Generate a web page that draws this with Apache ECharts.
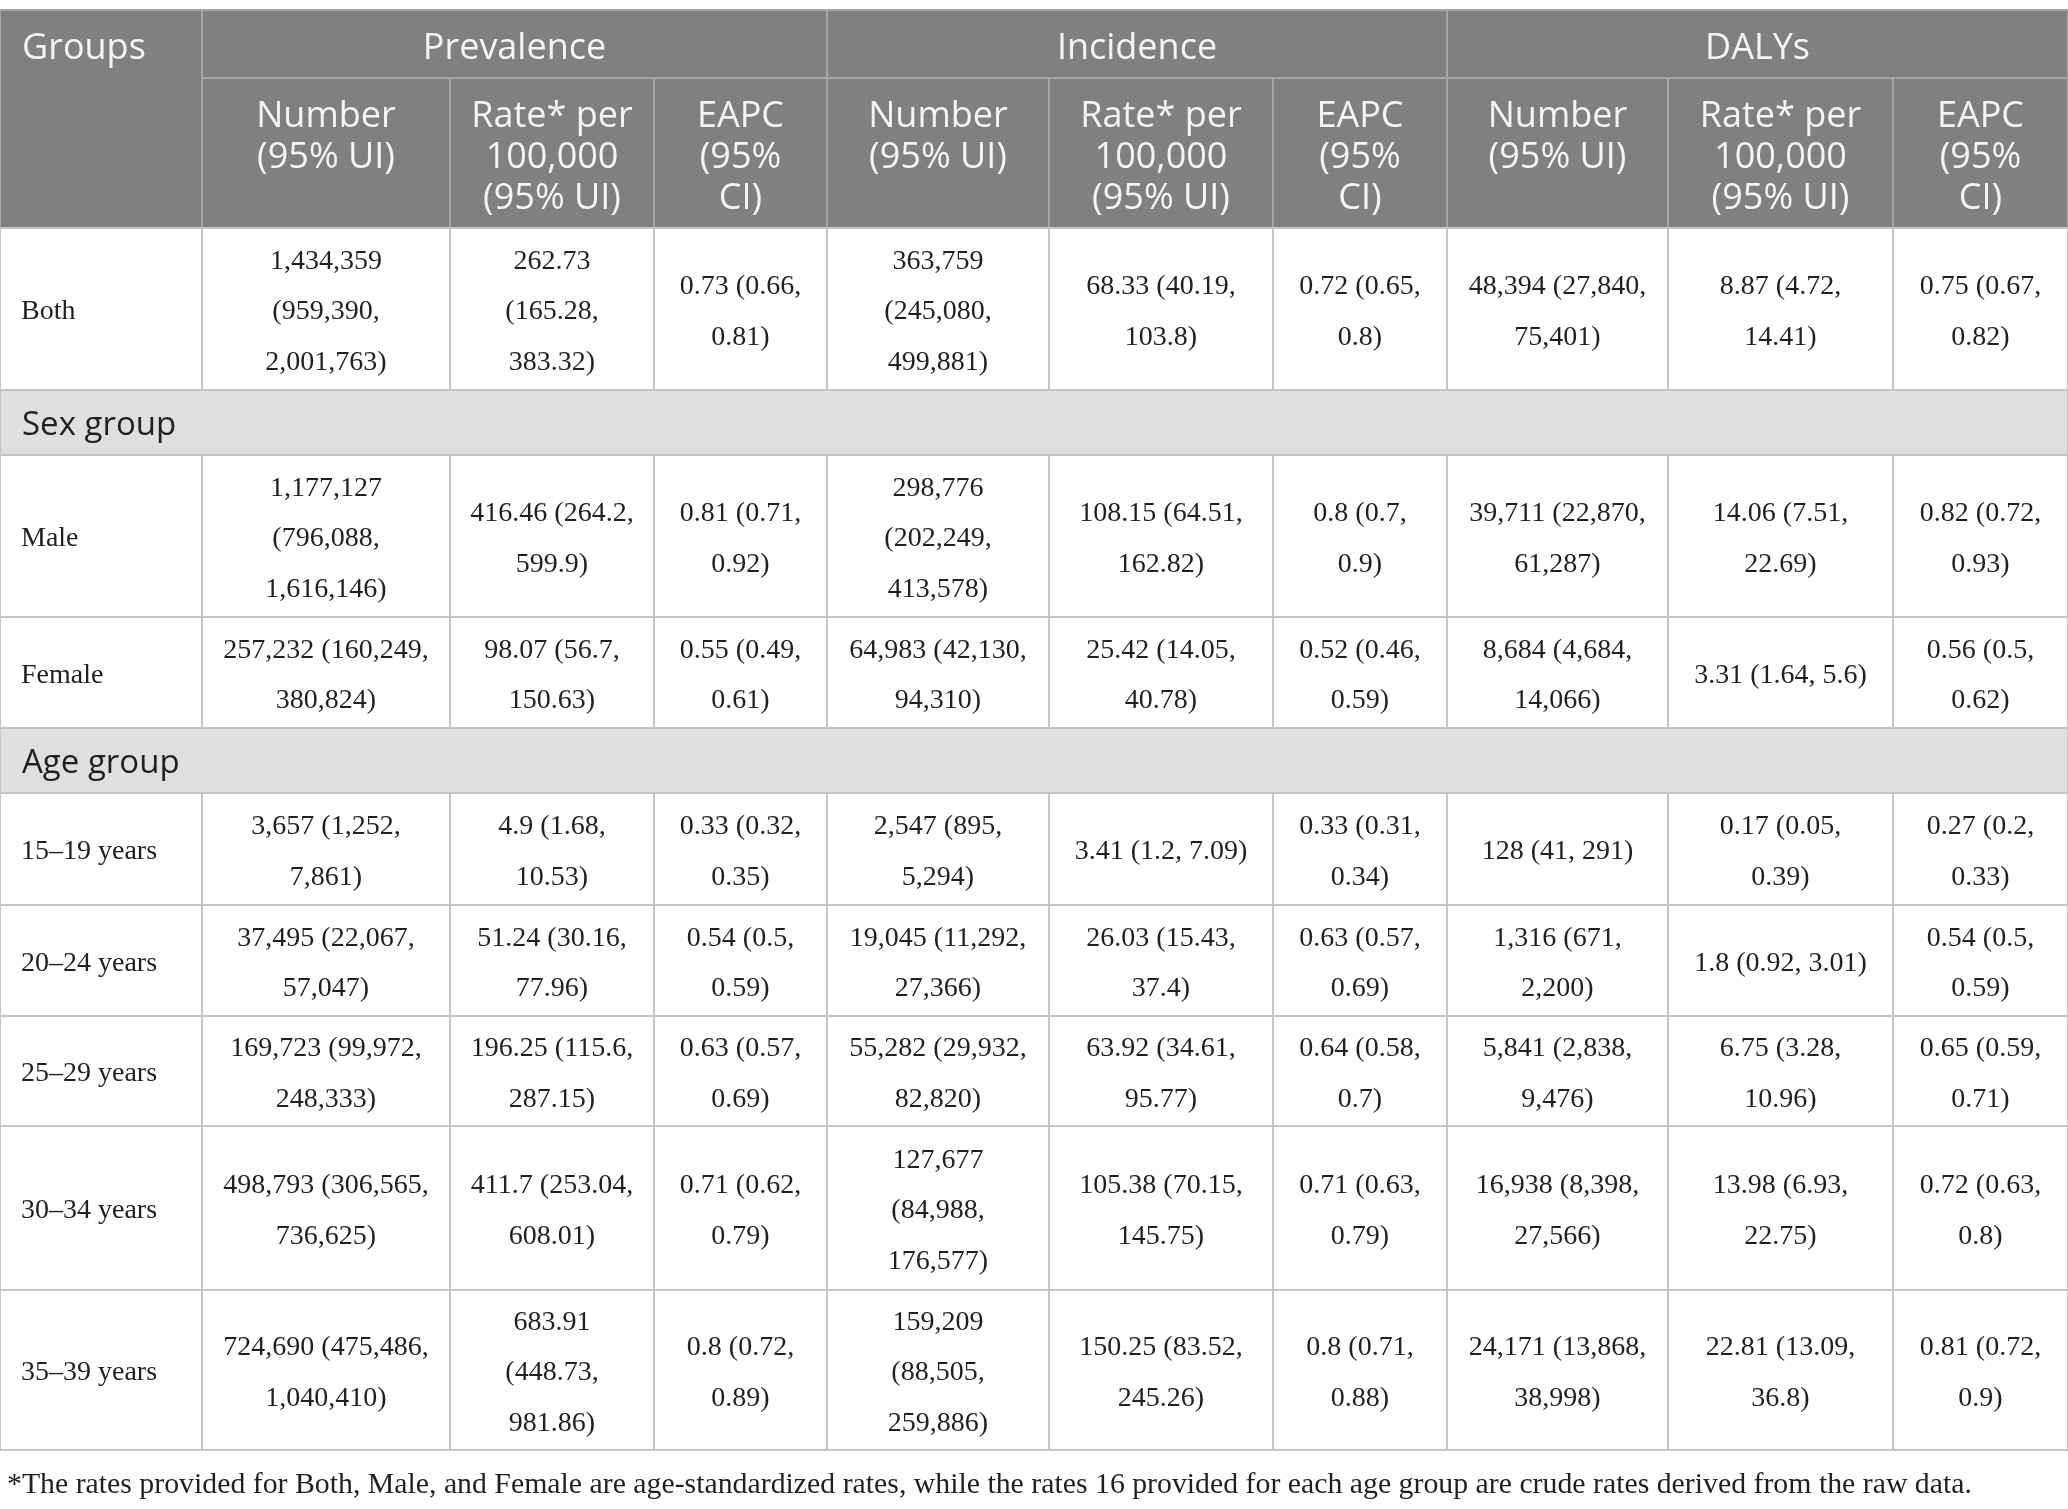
<!DOCTYPE html>
<html>
<head>
<meta charset="utf-8">
<script src="https://cdn.jsdelivr.net/npm/echarts@6/dist/echarts.min.js"></script>
<style>
html,body{margin:0;padding:0;background:#fff;}
#chart{width:2068px;height:1509px;}
</style>
</head>
<body>
<div id="chart"></div>
<script>
// ---------- DATA ----------
const topHeader = 'Groups';
const measures = ['Prevalence', 'Incidence', 'DALYs'];
const subHeaders = ['Number\n(95% UI)', 'Rate* per\n100,000\n(95% UI)', 'EAPC\n(95%\nCI)'];
const sections = ['Sex group', 'Age group'];
const groups = ['Both', 'Male', 'Female', '15–19 years', '20–24 years', '25–29 years', '30–34 years', '35–39 years'];

const prevNumber = ['1,434,359\n(959,390,\n2,001,763)', '1,177,127\n(796,088,\n1,616,146)', '257,232 (160,249,\n380,824)', '3,657 (1,252,\n7,861)', '37,495 (22,067,\n57,047)', '169,723 (99,972,\n248,333)', '498,793 (306,565,\n736,625)', '724,690 (475,486,\n1,040,410)'];
const prevRate = ['262.73\n(165.28,\n383.32)', '416.46 (264.2,\n599.9)', '98.07 (56.7,\n150.63)', '4.9 (1.68,\n10.53)', '51.24 (30.16,\n77.96)', '196.25 (115.6,\n287.15)', '411.7 (253.04,\n608.01)', '683.91\n(448.73,\n981.86)'];
const prevEAPC = ['0.73 (0.66,\n0.81)', '0.81 (0.71,\n0.92)', '0.55 (0.49,\n0.61)', '0.33 (0.32,\n0.35)', '0.54 (0.5,\n0.59)', '0.63 (0.57,\n0.69)', '0.71 (0.62,\n0.79)', '0.8 (0.72,\n0.89)'];
const incNumber = ['363,759\n(245,080,\n499,881)', '298,776\n(202,249,\n413,578)', '64,983 (42,130,\n94,310)', '2,547 (895,\n5,294)', '19,045 (11,292,\n27,366)', '55,282 (29,932,\n82,820)', '127,677\n(84,988,\n176,577)', '159,209\n(88,505,\n259,886)'];
const incRate = ['68.33 (40.19,\n103.8)', '108.15 (64.51,\n162.82)', '25.42 (14.05,\n40.78)', '3.41 (1.2, 7.09)', '26.03 (15.43,\n37.4)', '63.92 (34.61,\n95.77)', '105.38 (70.15,\n145.75)', '150.25 (83.52,\n245.26)'];
const incEAPC = ['0.72 (0.65,\n0.8)', '0.8 (0.7,\n0.9)', '0.52 (0.46,\n0.59)', '0.33 (0.31,\n0.34)', '0.63 (0.57,\n0.69)', '0.64 (0.58,\n0.7)', '0.71 (0.63,\n0.79)', '0.8 (0.71,\n0.88)'];
const dalyNumber = ['48,394 (27,840,\n75,401)', '39,711 (22,870,\n61,287)', '8,684 (4,684,\n14,066)', '128 (41, 291)', '1,316 (671,\n2,200)', '5,841 (2,838,\n9,476)', '16,938 (8,398,\n27,566)', '24,171 (13,868,\n38,998)'];
const dalyRate = ['8.87 (4.72,\n14.41)', '14.06 (7.51,\n22.69)', '3.31 (1.64, 5.6)', '0.17 (0.05,\n0.39)', '1.8 (0.92, 3.01)', '6.75 (3.28,\n10.96)', '13.98 (6.93,\n22.75)', '22.81 (13.09,\n36.8)'];
const dalyEAPC = ['0.75 (0.67,\n0.82)', '0.82 (0.72,\n0.93)', '0.56 (0.5,\n0.62)', '0.27 (0.2,\n0.33)', '0.54 (0.5,\n0.59)', '0.65 (0.59,\n0.71)', '0.72 (0.63,\n0.8)', '0.81 (0.72,\n0.9)'];

const footnote = '*The rates provided for Both, Male, and Female are age-standardized rates, while the rates 16 provided for each age group are crude rates derived from the raw data.';

// ---------- LAYOUT (grid units = pixels) ----------
const colEdges = [0, 202, 450, 654, 827, 1049, 1273, 1447, 1668, 1893, 2068];
const rowEdges = [10, 78, 228, 390, 455, 617, 728, 793, 905, 1016, 1126, 1290, 1450];

const valueCols = [prevNumber, prevRate, prevEAPC, incNumber, incRate, incEAPC, dalyNumber, dalyRate, dalyEAPC];
// table row index for each group / section
const groupRows = [2, 4, 5, 7, 8, 9, 10, 11];
const sectionRows = [3, 6];

const cells = [];
cells.push({c0: 0, c1: 1, r0: 0, r1: 2, text: topHeader, kind: 'headLeft'});
measures.forEach((m, i) => cells.push({c0: 1 + 3 * i, c1: 4 + 3 * i, r0: 0, r1: 1, text: m, kind: 'head'}));
for (let i = 0; i < 9; i++) cells.push({c0: 1 + i, c1: 2 + i, r0: 1, r1: 2, text: subHeaders[i % 3], kind: 'head'});
sections.forEach((s, i) => cells.push({c0: 0, c1: 10, r0: sectionRows[i], r1: sectionRows[i] + 1, text: s, kind: 'section'}));
groups.forEach((g, gi) => {
  const r = groupRows[gi];
  cells.push({c0: 0, c1: 1, r0: r, r1: r + 1, text: g, kind: 'bodyLeft'});
  valueCols.forEach((col, ci) => cells.push({c0: 1 + ci, c1: 2 + ci, r0: r, r1: r + 1, text: col[gi], kind: 'body'}));
});

const HEAD_BG = '#7f807f', HEAD_FG = '#f4f4f4', HEAD_LINE = '#a6a6a6';
const BODY_LINE = '#c4c4c4', SECTION_BG = '#e0dfe0', TEXT = '#231f20';

function renderItem(params, api) {
  const cell = cells[params.dataIndex];
  const p0 = api.coord([colEdges[api.value(0)], rowEdges[api.value(1)]]);
  const p1 = api.coord([colEdges[api.value(2)], rowEdges[api.value(3)]]);
  const x = p0[0], y = p0[1], w = p1[0] - p0[0], h = p1[1] - p0[1];
  const isHead = cell.kind === 'head' || cell.kind === 'headLeft';
  const fill = isHead ? HEAD_BG : (cell.kind === 'section' ? SECTION_BG : '#ffffff');
  const rect = {type: 'rect', shape: {x: x, y: y, width: w, height: h},
    style: {fill: fill, stroke: isHead ? HEAD_LINE : BODY_LINE, lineWidth: 2}};
  let ts;
  if (isHead) {
    ts = {text: cell.text, x: cell.kind === 'headLeft' ? x + 22 : x + w / 2, y: y + 18,
      align: cell.kind === 'headLeft' ? 'left' : 'center', verticalAlign: 'top',
      fontFamily: 'Open Sans', fontSize: 36, lineHeight: 41, fill: HEAD_FG};
  } else if (cell.kind === 'section') {
    ts = {text: cell.text, x: x + 22, y: y + h / 2 + 3, align: 'left', verticalAlign: 'middle',
      fontFamily: 'Open Sans', fontSize: 33, lineHeight: 40, fill: TEXT};
  } else {
    ts = {text: cell.text, x: cell.kind === 'bodyLeft' ? x + 21 : x + w / 2, y: y + h / 2 + 3,
      align: cell.kind === 'bodyLeft' ? 'left' : 'center', verticalAlign: 'middle',
      fontFamily: 'Liberation Serif', fontSize: 28, lineHeight: 50.5, fill: TEXT};
  }
  return {type: 'group', children: [rect, {type: 'text', style: ts, z2: 10}]};
}

const chart = echarts.init(document.getElementById('chart'), null, {renderer: 'canvas'});
chart.setOption({
  animation: false,
  backgroundColor: '#ffffff',
  title: {
    text: footnote, left: 2, top: 1463,
    textStyle: {fontFamily: 'Liberation Serif', fontSize: 29.8, fontWeight: 'normal', color: TEXT, lineHeight: 34}
  },
  grid: {left: 0, right: 0, top: 0, bottom: 0},
  xAxis: {type: 'value', min: 0, max: 2068, show: false},
  yAxis: {type: 'value', min: 0, max: 1509, inverse: true, show: false},
  series: [{
    type: 'custom',
    silent: true,
    clip: false,
    renderItem: renderItem,
    encode: {x: [0, 2], y: [1, 3]},
    data: cells.map(c => [c.c0, c.r0, c.c1, c.r1])
  }]
});
</script>
</body>
</html>
